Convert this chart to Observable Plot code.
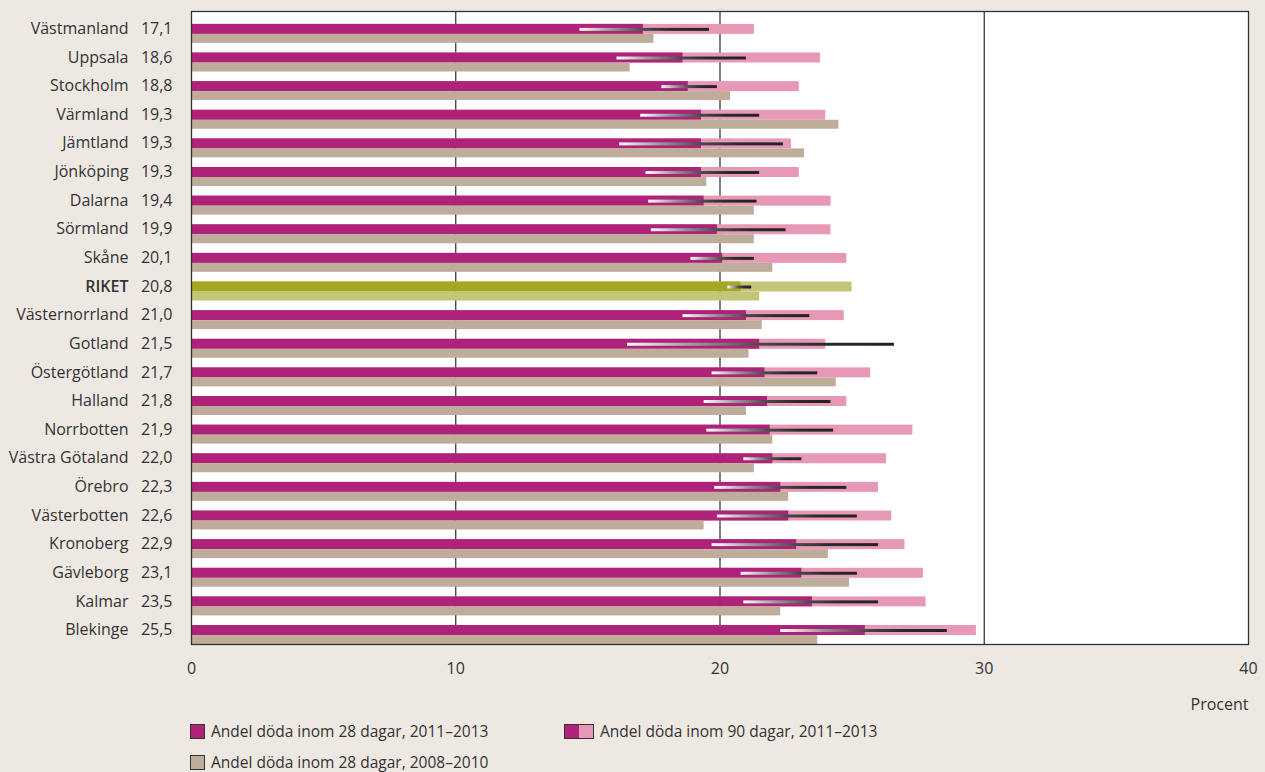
<!DOCTYPE html>
<html>
<head>
<meta charset="utf-8">
<script src="https://cdn.jsdelivr.net/npm/d3@7"></script>
<script src="https://cdn.jsdelivr.net/npm/@observablehq/plot@0.6"></script>
<style>
  html, body { margin: 0; padding: 0; background: #ede8e2; }
  body { position: relative; width: 1265px; height: 772px; overflow: hidden; font-family: "Open Sans", sans-serif; color: #333; }
  #chart { position: absolute; left: 0; top: 0; }
  .leg { position: absolute; display: flex; align-items: center; font-size: 15.5px; white-space: nowrap; height: 20px; }
  .sw { display: inline-block; width: 13px; height: 13px; border: 1px solid #333; margin-right: 6px; }
  .sw2 { display: inline-flex; border: 1px solid #333; margin-right: 6px; }
  .sw2 span { display: inline-block; width: 14px; height: 13px; }
</style>
</head>
<body>
<div id="chart"></div>
<div class="leg" style="left:190px; top:721px;"><span class="sw" style="background:#ae2279"></span>Andel döda inom 28 dagar, 2011–2013</div>
<div class="leg" style="left:564px; top:721px;"><span class="sw2"><span style="background:#ae2279"></span><span style="background:#e898b7"></span></span>Andel döda inom 90 dagar, 2011–2013</div>
<div class="leg" style="left:190px; top:752px;"><span class="sw" style="background:#bfad9b"></span>Andel döda inom 28 dagar, 2008–2010</div>
<script>
const regions = ["Västmanland","Uppsala","Stockholm","Värmland","Jämtland","Jönköping","Dalarna","Sörmland","Skåne","RIKET","Västernorrland","Gotland","Östergötland","Halland","Norrbotten","Västra Götaland","Örebro","Västerbotten","Kronoberg","Gävleborg","Kalmar","Blekinge"];
const dead28 = [17.1,18.6,18.8,19.3,19.3,19.3,19.4,19.9,20.1,20.8,21.0,21.5,21.7,21.8,21.9,22.0,22.3,22.6,22.9,23.1,23.5,25.5];
const dead90 = [21.3,23.8,23.0,24.0,22.7,23.0,24.2,24.2,24.8,25.0,24.7,24.0,25.7,24.8,27.3,26.3,26.0,26.5,27.0,27.7,27.8,29.7];
const ciLow  = [14.7,16.1,17.8,17.0,16.2,17.2,17.3,17.4,18.9,20.3,18.6,16.5,19.7,19.4,19.5,20.9,19.8,19.9,19.7,20.8,20.9,22.3];
const ciHigh = [19.6,21.0,19.9,21.5,22.4,21.5,21.4,22.5,21.3,21.2,23.4,26.6,23.7,24.2,24.3,23.1,24.8,25.2,26.0,25.2,26.0,28.6];
const dead28prev = [17.5,16.6,20.4,24.5,23.2,19.5,21.3,21.3,22.0,21.5,21.6,21.1,24.4,21.0,22.0,21.3,22.6,19.4,24.1,24.9,22.3,23.7];
const xTicks = [0,10,20,30,40];
const gridValues = [10,20,30];

const data = regions.map((r, i) => ({
  region: r, d28: dead28[i], d90: dead90[i], lo: ciLow[i], hi: ciHigh[i], prev: dead28prev[i], riket: r === "RIKET"
}));

const fmt = v => v.toFixed(1).replace(".", ",");

const plot = Plot.plot({
  width: 1265,
  height: 715,
  marginLeft: 191,
  marginRight: 17,
  marginTop: 11,
  marginBottom: 71,
  style: { fontFamily: "Open Sans, sans-serif", fontSize: "16px", background: "transparent", color: "#333" },
  x: { domain: [0, 40] },
  y: { domain: regions, type: "band", paddingInner: 0.337, paddingOuter: 0.225, align: 1, round: false, axis: null },
  marks: [
    Plot.frame({ fill: "white", stroke: null }),
    Plot.ruleX(gridValues, { stroke: "#2b2b2b", strokeWidth: 1.2 }),
    Plot.barX(data, { x: "d90", y: "region", fill: d => d.riket ? "#c4c677" : "#e898b7", insetBottom: 9 }),
    Plot.barX(data, { x: "d28", y: "region", fill: d => d.riket ? "#a5a621" : "#ae2279", insetBottom: 9 }),
    Plot.barX(data, { x: "prev", y: "region", fill: d => d.riket ? "#c4c677" : "#bfad9b", insetTop: 10 }),
    Plot.barX(data, { x1: "lo", x2: "hi", y: "region", fill: "url(#ciGrad)", insetTop: 4, insetBottom: 12 }),
    Plot.frame({ stroke: "#333", strokeWidth: 1.3 }),
    Plot.text(data.filter(d => !d.riket), { x: () => 0, y: "region", text: "region", textAnchor: "end", dx: -63, dy: -5, fill: "#333" }),
    Plot.text(data.filter(d => d.riket), { x: () => 0, y: "region", text: "region", textAnchor: "end", dx: -63, dy: -5, fill: "#333", fontWeight: 600 }),
    Plot.text(data, { x: () => 0, y: "region", text: d => fmt(d.d28), textAnchor: "end", dx: -19, dy: -5, fill: "#333" }),
    Plot.axisX({ ticks: xTicks, tickSize: 0, tickPadding: 18, tickFormat: d => String(d), label: null }),
    Plot.text(["Procent"], { frameAnchor: "bottom-right", text: d => d, textAnchor: "end", dy: 65, fill: "#333" })
  ]
});

const svg = d3.select(plot);
const grad = svg.insert("defs", ":first-child").append("linearGradient").attr("id", "ciGrad").attr("x1", "0").attr("x2", "1").attr("y1", "0").attr("y2", "0");
grad.append("stop").attr("offset", "0").attr("stop-color", "#ffffff");
grad.append("stop").attr("offset", "0.25").attr("stop-color", "#9a9a9a");
grad.append("stop").attr("offset", "0.5").attr("stop-color", "#4a4a4a");
grad.append("stop").attr("offset", "0.72").attr("stop-color", "#2a2a2a");
grad.append("stop").attr("offset", "1").attr("stop-color", "#222222");

document.getElementById("chart").appendChild(plot);
</script>
</body>
</html>
